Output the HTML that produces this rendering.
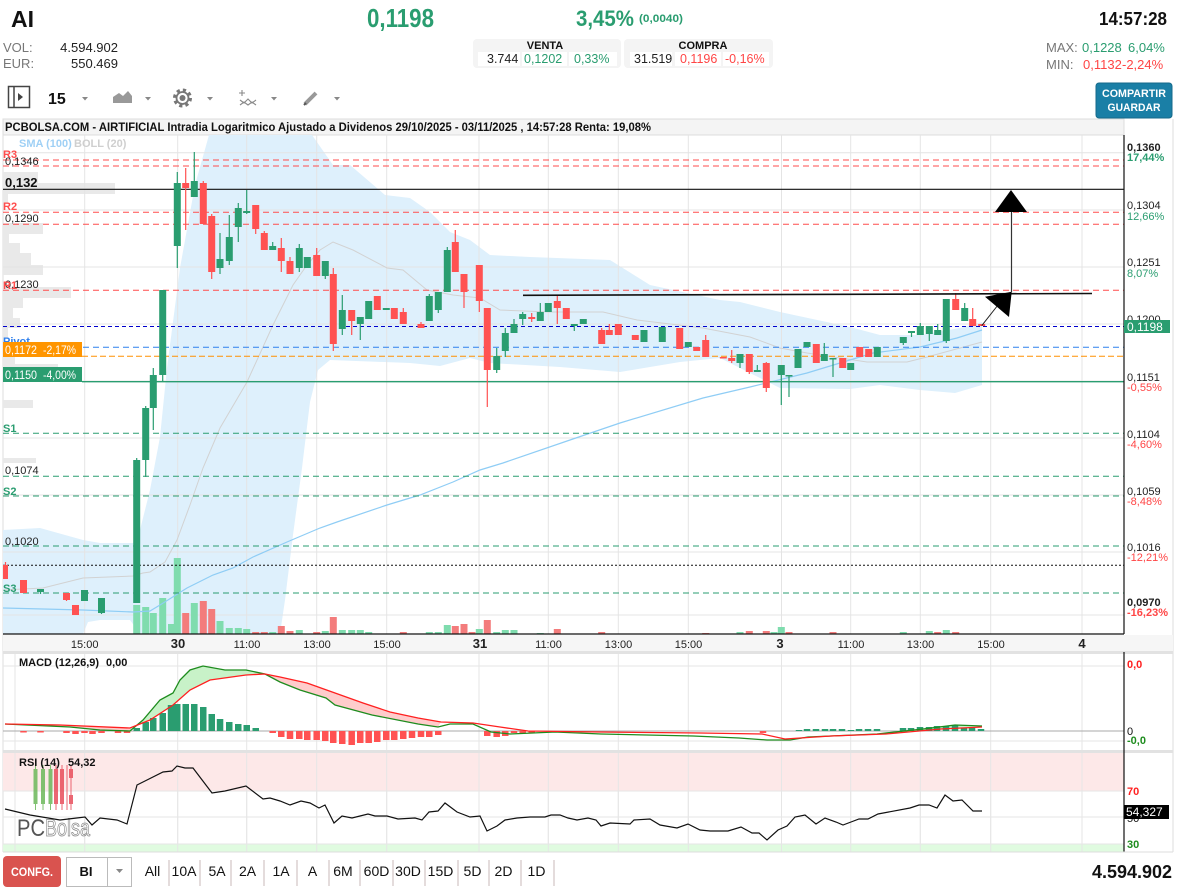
<!DOCTYPE html>
<html><head><meta charset="utf-8">
<style>
html,body{margin:0;padding:0;background:#fff;width:1187px;height:893px;overflow:hidden}
svg{display:block;font-family:"Liberation Sans",Arial,sans-serif}
</style></head><body>
<svg width="1187" height="893" viewBox="0 0 1187 893" xmlns="http://www.w3.org/2000/svg">
<defs>
<clipPath id="plot"><rect x="3" y="135" width="1121" height="499"/></clipPath>
<clipPath id="macd"><rect x="3" y="653" width="1121" height="98"/></clipPath>
</defs>
<rect width="1187" height="893" fill="#fff"/>

<!-- HEADER -->
<text x="11" y="27" font-size="23" font-weight="bold" fill="#111">AI</text>
<text x="367" y="27" font-size="26" font-weight="bold" fill="#2a9d70" textLength="67" lengthAdjust="spacingAndGlyphs">0,1198</text>
<text x="576" y="26" font-size="22" font-weight="bold" fill="#2a9d70" textLength="58" lengthAdjust="spacingAndGlyphs">3,45%</text>
<text x="639" y="22" font-size="11" font-weight="bold" fill="#2a9d70" textLength="44" lengthAdjust="spacingAndGlyphs">(0,0040)</text>
<text x="1099" y="25" font-size="18" font-weight="bold" fill="#111" textLength="68" lengthAdjust="spacingAndGlyphs">14:57:28</text>

<text x="3" y="52" font-size="13" fill="#777">VOL:</text>
<text x="118" y="52" font-size="13" fill="#222" text-anchor="end">4.594.902</text>
<text x="3" y="68" font-size="13" fill="#777">EUR:</text>
<text x="118" y="68" font-size="13" fill="#222" text-anchor="end">550.469</text>

<rect x="473" y="39" width="148" height="29" rx="4" fill="#f4f4f4"/>
<rect x="624" y="39" width="149" height="29" rx="4" fill="#f4f4f4"/>
<rect x="478" y="52" width="42" height="14" fill="#fff"/>
<rect x="522" y="52" width="45" height="14" fill="#fff"/>
<rect x="569" y="52" width="48" height="14" fill="#fff"/>
<rect x="630" y="52" width="42" height="14" fill="#fff"/>
<rect x="675" y="52" width="46" height="14" fill="#fff"/>
<rect x="723" y="52" width="46" height="14" fill="#fff"/>
<text x="545" y="49" font-size="11" font-weight="bold" fill="#111" text-anchor="middle">VENTA</text>
<text x="703" y="49" font-size="11" font-weight="bold" fill="#111" text-anchor="middle">COMPRA</text>
<text x="487" y="63" font-size="12.5" fill="#222">3.744</text>
<text x="524" y="63" font-size="12.5" fill="#2a9d70">0,1202</text>
<text x="574" y="63" font-size="12.5" fill="#2a9d70">0,33%</text>
<text x="634" y="63" font-size="12.5" fill="#222">31.519</text>
<text x="680" y="63" font-size="12.5" fill="#ff4545">0,1196</text>
<text x="725" y="63" font-size="12.5" fill="#ff4545">-0,16%</text>

<text x="1046" y="52" font-size="13" fill="#777">MAX:</text>
<text x="1082" y="52" font-size="13" fill="#2a9d70">0,1228</text>
<text x="1128" y="52" font-size="13" fill="#2a9d70">6,04%</text>
<text x="1046" y="69" font-size="13" fill="#777">MIN:</text>
<text x="1083" y="69" font-size="13" fill="#ff4545">0,1132</text>
<text x="1122" y="69" font-size="13" fill="#ff4545">-2,24%</text>

<rect x="1096" y="83" width="76" height="35" rx="3" fill="#1a7fa6" stroke="#156a8b"/>
<text x="1134" y="97" font-size="11" font-weight="bold" fill="#fff" text-anchor="middle" textLength="64" lengthAdjust="spacingAndGlyphs">COMPARTIR</text>
<text x="1134" y="111" font-size="11" font-weight="bold" fill="#fff" text-anchor="middle" textLength="53" lengthAdjust="spacingAndGlyphs">GUARDAR</text>

<!-- toolbar -->
<rect x="8.5" y="86.5" width="21" height="21" fill="none" stroke="#444" stroke-width="1.5"/>
<line x1="14" y1="87" x2="14" y2="107" stroke="#444" stroke-width="1.5"/>
<path d="M18 93L23 97L18 101z" fill="#444"/>
<text x="48" y="104" font-size="16" font-weight="bold" fill="#111">15</text>
<path d="M82 97h6l-3 3.5z M145 97h6l-3 3.5z M207 97h6l-3 3.5z M271 97h6l-3 3.5z M334 97h6l-3 3.5z" fill="#888"/>
<path d="M113 103V97L119 93L123 96L128 91L132 96V103z" fill="#999"/>
<circle cx="182.5" cy="98" r="8" fill="none" stroke="#777" stroke-width="3" stroke-dasharray="3.2 3.1"/>
<circle cx="182.5" cy="98" r="6" fill="none" stroke="#777" stroke-width="1.8"/>
<circle cx="182.5" cy="98" r="3" fill="#777"/>
<path d="M242 90v6M239 93h6M240 100l4 3 4-4 4 4 4-3M240 105l4-3 4 3 4-3 4 3" stroke="#888" stroke-width="1.1" fill="none"/>
<path d="M305 104l11-11" stroke="#999" stroke-width="4"/>
<path d="M304 105l2-2" stroke="#555" stroke-width="2"/>

<!-- CHART FRAME -->
<rect x="3" y="119" width="1121" height="16" fill="#f4f4f4" stroke="#ddd"/>
<text x="5" y="131" font-size="11.5" font-weight="bold" fill="#111" textLength="646" lengthAdjust="spacingAndGlyphs">PCBOLSA.COM - AIRTIFICIAL Intradia Logaritmico Ajustado a Dividenos 29/10/2025 - 03/11/2025 , 14:57:28 Renta: 19,08%</text>
<line x1="3" y1="119" x2="3" y2="852" stroke="#ddd"/>
<line x1="1173" y1="119" x2="1173" y2="852" stroke="#ddd"/>

<!-- volume profile -->
<g fill="#e9e9e9">
<rect x="3" y="172" width="35" height="11"/><rect x="3" y="183" width="112" height="11"/><rect x="3" y="194" width="5" height="10"/>
<rect x="3" y="223" width="40" height="11"/><rect x="3" y="234" width="6" height="9"/><rect x="3" y="243" width="17" height="10"/>
<rect x="3" y="253" width="28" height="12"/><rect x="3" y="265" width="40" height="10"/><rect x="3" y="287" width="68" height="11"/>
<rect x="3" y="298" width="20" height="10"/><rect x="3" y="308" width="10" height="10"/><rect x="3" y="318" width="17" height="10"/>
<rect x="3" y="328" width="5" height="10"/><rect x="3" y="357" width="12" height="8"/><rect x="3" y="364" width="55" height="4"/>
<rect x="3" y="400" width="30" height="8"/><rect x="3" y="458" width="33" height="5"/><rect x="3" y="550" width="7" height="8"/><rect x="3" y="588" width="5" height="10"/>
</g>

<g clip-path="url(#plot)">
<polygon fill="#def0fc" points="3,530 40,528 83,540 100,543 133,543 140,530 150,490 160,437 167,368 180,268 195,185 209,135 312,135 333,165 350,165 385,195 410,198 430,212 450,232 470,240 490,255 530,257 610,260 650,285 720,300 740,302 780,312 850,327 880,335 920,335 960,328 982,322 982,385 955,393 920,390 880,385 850,389 780,388 750,373 720,358 680,362 620,372 560,367 490,363 470,358 440,366 410,363 330,360 318,370 310,402 302,468 293,535 285,600 280,634 140,634 130,620 100,620 88,622 83,634 3,634"/>
</g>

<g stroke="#e4e4e4" stroke-width="1">
<path d="M3 152.7H1124M3 210H1124M3 267H1124M3 324H1124M3 381H1124M3 438H1124M3 495H1124M3 552H1124M3 615H1124"/>
<path d="M84.7 135V634M177.7 135V634M246.7 135V634M316.7 135V634M386.7 135V634M479 135V634M548.3 135V634M618.3 135V634M688.3 135V634M781.5 135V634M850.7 135V634M920.3 135V634M990.7 135V634M1082 135V634"/>
</g>

<g clip-path="url(#plot)">
<path fill="#7fdcae" d="M133.2 605h7V634h-7z M142.2 607h7V634h-7z M149.8 613h7V634h-7z M159.2 598h7V634h-7z M168 624h6V634h-6z M173.8 558h7V634h-7z M190.8 603h7V634h-7z M216.5 621h7V634h-7z M225.8 628h7V634h-7z M234.8 628h7V634h-7z M243.2 629h7V634h-7z M269.2 632h7V634h-7z M295.8 630h7V634h-7z M321.8 631h7V634h-7z M338.8 630h7V634h-7z M348.2 630h7V634h-7z M356.8 630h7V634h-7z M365.2 632h7V634h-7z M425.8 632h7V634h-7z M434.8 632h7V634h-7z M443.8 625h7V634h-7z M475.8 629h7V634h-7z M493.2 632h7V634h-7z M501.8 630h7V634h-7z M510.5 630h7V634h-7z M536.8 633h7V634h-7z M736.5 632h7V634h-7z M770.5 632h7V634h-7z M777.8 627h7V634h-7z M899.8 632h7V634h-7z M925.8 631h7V634h-7z M942.8 630h7V634h-7z"/>
<path fill="#f37c7c" d="M182.2 613h7V634h-7z M199.8 601h7V634h-7z M208.2 609h7V634h-7z M252.2 632h7V634h-7z M260.8 632h7V634h-7z M277.8 626h7V634h-7z M286.5 631h7V634h-7z M313.2 632h7V634h-7z M329.8 617h7V634h-7z M399.8 632h7V634h-7z M451.8 626h7V634h-7z M460.5 624h7V634h-7z M468.5 632h7V634h-7z M483.8 620h7V634h-7z M553.8 629h7V634h-7z M598.2 632h7V634h-7z M702.2 633h7V634h-7z M745.8 631h7V634h-7z M762.8 631h7V634h-7z M785.5 632h7V634h-7z M829.5 632h7V634h-7z M934.2 632h7V634h-7z M952.2 632h7V634h-7z"/>
<polyline fill="none" stroke="#d2d2d2" stroke-width="1" points="3,590 43,588 83,578 133,576 143,573 150,572 165,562 177,540 190,505 203,468 220,428 247,382 273,325 293,285 307,265 320,250 333,242 353,250 387,268 403,270 427,290 453,295 480,298 500,310 550,312 603,312 637,320 703,328 750,337 780,348 807,353 867,362 907,362 927,357 960,348 982,342"/>
<polyline fill="none" stroke="#8fcdf5" stroke-width="1.2" points="3,608 83,610 133,612 150,611 160,605 187,588 213,575 233,568 253,557 287,542 320,528 337,522 387,505 420,495 453,482 480,470 503,463 570,440 620,423 703,398 750,387 807,373 873,353 920,347 957,338 982,330"/>
</g>

<g fill="none" stroke-width="1">
<path d="M3 160H1124M3 166H1124M3 212.3H1124M3 224.3H1124M3 290.3H1124" stroke="#ff4d4d" stroke-dasharray="6 4"/>
<path d="M3 433.3H1124M3 476.3H1124M3 496H1124M3 546H1124M3 593H1124" stroke="#2a9d70" stroke-dasharray="6 4"/>
<path d="M3 326.5H1124" stroke="#0000cc" stroke-dasharray="4 3"/>
<path d="M3 347.3H1124" stroke="#2f80ed" stroke-dasharray="6 4"/>
<path d="M82 356.3H1124" stroke="#ff9000" stroke-dasharray="6 3"/>
<path d="M82 381.7H1124" stroke="#2a9d70" stroke-width="1.3"/>
<path d="M3 565.3H1124" stroke="#111" stroke-dasharray="2 2"/>
<path d="M3 189.3H1124" stroke="#111" stroke-width="1.2"/>
</g>

<g stroke-width="1.2" fill="none">
<path stroke="#2a9d70" d="M40.5 589V594M101.5 598V614M136.7 458V603M145.7 406V477M153.3 368V430M162.7 290V382M177.3 172V268M194.3 152V197M220 233V274M229.3 215V265M238.3 203V242M246.7 190V214M272.7 242V250M299.3 244V272M325.3 261V279M342.3 295V335M360.3 317V340M429.3 294V321M438.3 292V313M447.3 247V292M496.7 348V373M505.3 328V357M514 319V333M522.7 312V325M540.3 303V321M574.3 324V331M740 354V368M757.3 365V372M781.3 365V405M789 375V397M824.3 343V361M833 358V377M903.3 337V345M911.5 331V337M920.3 323V335M929.3 326V341M937.7 324V335M946.3 299V343M964.7 303V321"/>
<path stroke="#ff5252" d="M5.5 562V579M66.5 593V601M185.7 168V230M203.3 181V224M211.7 214V279M255.7 205V234M264.3 231V250M281.3 238V272M290 257V274M316.7 248V276M333.3 268V351M351.7 310V335M403.3 308V324M421 322V328M455.3 230V272M464 274V308M479.3 265V312M487.3 308V407M531.7 313V322M557.3 295V324M601.7 328V344M609.3 324V335M705.7 335V357M731.7 350V363M749.3 354V374M766.3 362V392M955.7 293V310M972.7 308V326"/>
</g>
<path fill="#2a9d70" d="M37 589h7v3h-7zM81 590h7v11h-7zM98 598h7v15h-7zM133.2 460h7v143h-7zM142.2 408h7v52h-7zM149.8 375h7v33h-7zM159.2 290h7v85h-7zM173.8 183h7v63h-7zM190.8 181h7v16h-7zM216.5 259h7v9h-7zM225.8 237h7v24h-7zM234.8 208h7v19h-7zM243.2 211h7v2h-7zM269.2 246h7v4h-7zM295.8 248h7v20h-7zM303.8 257h7v11h-7zM321.8 261h7v15h-7zM338.8 310h7v19h-7zM356.8 317h7v7h-7zM365.2 301h7v18h-7zM382.8 308h7v2h-7zM425.8 296h7v25h-7zM434.8 292h7v18h-7zM443.8 250h7v42h-7zM493.2 356h7v14h-7zM501.8 333h7v18h-7zM510.5 324h7v9h-7zM519.2 314h7v5h-7zM536.8 312h7v9h-7zM544.8 303h7v9h-7zM570.8 324h7v2h-7zM579.8 319h7v5h-7zM640.5 330h7v12h-7zM658.8 327h7v15h-7zM684.8 342h7v5h-7zM736.5 354h7v9h-7zM753.8 370h7v2h-7zM777.8 365h7v10h-7zM785.5 375h7v1.5h-7zM794.5 349h7v19h-7zM803.5 342h7v5h-7zM820.8 354h7v7h-7zM829.5 358h7v1.5h-7zM847.2 363h7v7h-7zM873.8 347h7v10h-7zM899.8 337h7v6h-7zM908 331h7v2h-7zM916.8 326h7v9h-7zM925.8 326h7v8h-7zM934.2 330h7v5h-7zM942.8 299h7v42h-7zM961.2 308h7v13h-7z"/>
<path fill="#ff5252" d="M3 565h5v14h-5zM20 580h7v13h-7zM63 593h7v7h-7zM72 605h7v10h-7zM182.2 183h7v5h-7zM199.8 183h7v41h-7zM208.2 216h7v56h-7zM252.2 205h7v24h-7zM260.8 233h7v17h-7zM277.8 248h7v13h-7zM286.5 261h7v13h-7zM313.2 255h7v21h-7zM329.8 274h7v70h-7zM348.2 310h7v11h-7zM373.8 296h7v14h-7zM390.8 308h7v11h-7zM399.8 312h7v12h-7zM417.5 324h7v4h-7zM451.8 242h7v30h-7zM460.5 274h7v18h-7zM475.8 265h7v36h-7zM483.8 308h7v62h-7zM528.2 317h7v2h-7zM553.8 301h7v7h-7zM562.8 308h7v11h-7zM598.2 330h7v14h-7zM605.8 330h7v5h-7zM614.8 324h7v11h-7zM631.8 335h7v5h-7zM676.2 328h7v21h-7zM693.2 347h7v4h-7zM702.2 340h7v17h-7zM719.8 357h7v1.5h-7zM728.2 358h7v3h-7zM745.8 354h7v18h-7zM762.8 363h7v25h-7zM812.8 344h7v19h-7zM839.2 358h7v10h-7zM856.2 347h7v10h-7zM865.2 349h7v8h-7zM952.2 299h7v11h-7zM969.2 319h7v7h-7zM978.2 324h7v2h-7z"/>

<line x1="523" y1="295.3" x2="1092" y2="293.5" stroke="#111" stroke-width="1.6"/>
<line x1="981.7" y1="325.7" x2="998" y2="305" stroke="#222" stroke-width="1"/>
<polygon points="1011.7,291.7 985,296.7 1009,317" fill="#000"/>
<line x1="1011.5" y1="292" x2="1011.5" y2="210" stroke="#333" stroke-width="1.2"/>
<polygon points="1011,190 995,212 1027,212" fill="#000"/>

<text x="19" y="147" font-size="11" font-weight="bold" fill="#9fd0f5">SMA (100)</text>
<text x="74" y="147" font-size="11" font-weight="bold" fill="#cfcfcf">BOLL (20)</text>

<g font-size="11" fill="#222">
<text x="3" y="158" font-weight="bold" fill="#ff4d4d">R3</text>
<text x="5" y="165">0,1346</text>
<text x="5" y="187" font-size="13" font-weight="bold" fill="#111">0,132</text>
<text x="3" y="210" font-weight="bold" fill="#ff4d4d">R2</text>
<text x="5" y="222">0,1290</text>
<text x="5" y="288">0,1230</text>
<text x="3" y="289" font-weight="bold" fill="#ff4d4d">R1</text>
<text x="3" y="345" font-weight="bold" fill="#2f80ed">Pivot</text>
<rect x="3" y="342" width="79" height="15" fill="#ff9500"/>
<text x="5" y="354" font-size="11.5" fill="#fff" textLength="32" lengthAdjust="spacingAndGlyphs">0,1172</text>
<text x="43" y="354" font-size="11.5" fill="#fff" textLength="33" lengthAdjust="spacingAndGlyphs">-2,17%</text>
<rect x="3" y="367" width="79" height="15" fill="#2a9d70"/>
<text x="5" y="379" font-size="11.5" fill="#fff" textLength="32" lengthAdjust="spacingAndGlyphs">0,1150</text>
<text x="43" y="379" font-size="11.5" fill="#fff" textLength="33" lengthAdjust="spacingAndGlyphs">-4,00%</text>
<text x="3" y="432" font-weight="bold" fill="#2a9d70">S1</text>
<text x="5" y="474">0,1074</text>
<text x="3" y="495" font-weight="bold" fill="#2a9d70">S2</text>
<text x="5" y="545">0,1020</text>
<text x="3" y="592" font-weight="bold" fill="#2a9d70">S3</text>
</g>

<line x1="1124" y1="135" x2="1124" y2="634" stroke="#111" stroke-width="1.2"/>
<g font-size="11" fill="#222">
<text x="1127" y="151" font-weight="bold">0,1360</text><text x="1127" y="161" font-weight="bold" fill="#2a9d70">17,44%</text>
<text x="1127" y="209">0,1304</text><text x="1127" y="220" fill="#2a9d70">12,66%</text>
<text x="1127" y="266">0,1251</text><text x="1127" y="277" fill="#2a9d70">8,07%</text>
<text x="1127" y="323">0,1200</text>
<text x="1127" y="381">0,1151</text><text x="1127" y="391" fill="#ff4545">-0,55%</text>
<text x="1127" y="438">0,1104</text><text x="1127" y="448" fill="#ff4545">-4,60%</text>
<text x="1127" y="495">0,1059</text><text x="1127" y="505" fill="#ff4545">-8,48%</text>
<text x="1127" y="551">0,1016</text><text x="1127" y="561" fill="#ff4545">-12,21%</text>
<text x="1127" y="606" font-weight="bold">0,0970</text><text x="1127" y="616" font-weight="bold" fill="#ff4545">-16,23%</text>
</g>
<rect x="1124" y="320" width="46" height="13" fill="#2a9d70"/>
<text x="1127" y="331" font-size="12" fill="#fff">0,1198</text>

<rect x="3" y="635" width="1170" height="16" fill="#f6f6f6"/>
<line x1="3" y1="634" x2="1124" y2="634" stroke="#111" stroke-width="1.2"/>
<g font-size="11" fill="#222" text-anchor="middle">
<text x="84.7" y="648">15:00</text><text x="178" y="648" font-size="13" font-weight="bold">30</text>
<text x="247" y="648">11:00</text><text x="317" y="648">13:00</text><text x="387" y="648">15:00</text>
<text x="480" y="648" font-size="13" font-weight="bold">31</text>
<text x="548.5" y="648">11:00</text><text x="618.5" y="648">13:00</text><text x="688.5" y="648">15:00</text>
<text x="780" y="648" font-size="13" font-weight="bold">3</text>
<text x="851" y="648">11:00</text><text x="920.5" y="648">13:00</text><text x="991" y="648">15:00</text>
<text x="1082" y="648" font-size="13" font-weight="bold">4</text>
</g>
<rect x="3" y="651" width="1170" height="3" fill="#e2e2e2"/>

<g stroke="#e6e6e6">
<path d="M3 666H1124M3 741H1124"/>
<path d="M15 654V852M84.7 654V852M177.7 654V852M246.7 654V852M316.7 654V852M386.7 654V852M479 654V852M548.3 654V852M618.3 654V852M688.3 654V852M781.5 654V852M850.7 654V852M920.3 654V852M990.7 654V852M1082 654V852"/>
</g>
<line x1="3" y1="731" x2="1124" y2="731" stroke="#aaa"/>
<g clip-path="url(#macd)">
<polygon fill="#c8f2c8" points="130,731 143,720 160,700 173,693 180,680 190,670 203,666 225,670 246,670 265,674 246,675 210,680 190,690 173,705 150,720 130,728"/>
<polygon fill="#ffcccc" points="265,674 280,677 307,683 335,693 363,703 390,712 418,718 441,722 438,727 418,724 372,715 335,705 326,698 300,690 280,682"/>
<polygon fill="#ffcccc" points="5,724 60,725 130,728 130,731 100,730 70,727"/>
<polygon fill="#c8f2c8" points="880,734 923,729 955,725 982,726 941,729 886,734"/>
<path fill="#2a9d70" d="M133.5 728h6.5V731h-6.5zM142.5 722h6.5V731h-6.5zM150 718h6.5V731h-6.5zM159.5 713h6.5V731h-6.5zM167.8 705h6.5V731h-6.5zM174 704h6.5V731h-6.5zM182.5 704h6.5V731h-6.5zM191 704h6.5V731h-6.5zM200 707h6.5V731h-6.5zM208.5 714h6.5V731h-6.5zM216.8 719h6.5V731h-6.5zM226 722h6.5V731h-6.5zM235 724h6.5V731h-6.5zM243.5 725h6.5V731h-6.5zM252.5 728h6.5V731h-6.5zM795.75 730h6.5V731h-6.5zM803.75 729h6.5V731h-6.5zM812.75 729h6.5V731h-6.5zM821.75 729h6.5V731h-6.5zM829.75 729h6.5V731h-6.5zM838.75 729h6.5V731h-6.5zM847.75 730h6.5V731h-6.5zM855.75 729h6.5V731h-6.5zM864.75 729h6.5V731h-6.5zM873.75 729h6.5V731h-6.5zM899.75 728h6.5V731h-6.5zM907.75 728h6.5V731h-6.5zM916.75 727h6.5V731h-6.5zM925.75 727h6.5V731h-6.5zM933.75 726h6.5V731h-6.5zM942.75 726h6.5V731h-6.5zM951.75 725h6.5V731h-6.5zM960.75 728h6.5V731h-6.5zM968.75 728h6.5V731h-6.5zM977.75 729h6.5V731h-6.5z"/>
<path fill="#ff5252" d="M20.25 731h6.5V732.5h-6.5zM37.25 731h6.5V732.5h-6.5zM63.25 731h6.5V733h-6.5zM72.25 731h6.5V734h-6.5zM81.25 731h6.5V733h-6.5zM89.25 731h6.5V734h-6.5zM98.25 731h6.5V733h-6.5zM114.75 731h6.5V733h-6.5zM123.75 731h6.5V733h-6.5zM269.45 731h6.5V733h-6.5zM278 731h6.5V737h-6.5zM286.75 731h6.5V739h-6.5zM296 731h6.5V739h-6.5zM304 731h6.5V740h-6.5zM313.45 731h6.5V740h-6.5zM322 731h6.5V741h-6.5zM330 731h6.5V743h-6.5zM339 731h6.5V744h-6.5zM348.45 731h6.5V745h-6.5zM357 731h6.5V743h-6.5zM365.45 731h6.5V743h-6.5zM374 731h6.5V742h-6.5zM383 731h6.5V740h-6.5zM391 731h6.5V740h-6.5zM400 731h6.5V739h-6.5zM408.75 731h6.5V738h-6.5zM417.75 731h6.5V737h-6.5zM426 731h6.5V737h-6.5zM435 731h6.5V735h-6.5zM484 731h6.5V736h-6.5zM493.45 731h6.5V737h-6.5zM502 731h6.5V736h-6.5zM510.75 731h6.5V733h-6.5zM519.45 731h6.5V733h-6.5zM528.45 731h6.5V733h-6.5zM759.75 731h6.5V733h-6.5z"/>
<polyline fill="none" stroke="#1e8c1e" stroke-width="1.3" points="5,724 70,727 100,730 130,731 143,720 160,700 173,693 180,680 190,670 203,666 225,670 246,670 265,674 280,682 300,690 326,698 335,705 372,715 418,724 438,727 450,724 473,724 491,732 510,734 555,732 601,734 693,736 739,738 767,740 790,740 808,737 877,734 923,729 955,725 982,726"/>
<polyline fill="none" stroke="#ff2020" stroke-width="1.3" points="5,724 60,725 130,728 150,720 173,705 190,690 210,680 246,675 265,674 280,677 307,683 335,693 363,703 390,712 418,718 441,722 473,723 500,727 528,731 600,732 700,733 762,734 785,739 831,736 886,734 941,729 982,727"/>
</g>
<text x="19" y="666" font-size="11" font-weight="bold" fill="#111">MACD (12,26,9)</text>
<text x="106" y="666" font-size="11" font-weight="bold" fill="#111">0,00</text>
<rect x="3" y="750" width="1170" height="3" fill="#e2e2e2"/>

<rect x="3" y="753" width="1121" height="38" fill="#fde8e8"/>
<rect x="3" y="844" width="1121" height="8" fill="#e0fbe0"/>
<g stroke="#e6e6e6"><path d="M3 791H1124M3 817H1124M3 844H1124"/>
<path d="M15 753V852M84.7 753V852M177.7 753V852M246.7 753V852M316.7 753V852M386.7 753V852M479 753V852M548.3 753V852M618.3 753V852M688.3 753V852M781.5 753V852M850.7 753V852M920.3 753V852M990.7 753V852M1082 753V852"/></g>
<g opacity="0.85">
<path stroke="#6cb85a" stroke-width="1" d="M35.5 765V810M43 765V810M50.5 765V810"/>
<path fill="#6cb85a" d="M33.5 769h4v35h-4zM41 769h4v35h-4zM48.5 769h4v35h-4z"/>
<path stroke="#e84d5b" stroke-width="1" d="M56 765V810M62 765V810M67 765V810M71 765V810"/>
<path fill="#e84d5b" d="M54 769h4v35h-4zM60 769h4v35h-4zM69 769h4v9h-4zM69 795h4v9h-4z"/>
</g>
<text x="17" y="836" font-size="24" fill="#555" textLength="28" lengthAdjust="spacingAndGlyphs">PC</text>
<text x="45" y="836" font-size="24" fill="none" stroke="#888" stroke-width="0.8" textLength="45" lengthAdjust="spacingAndGlyphs">Bolsa</text>
<polyline fill="none" stroke="#111" stroke-width="1.2" points="5,809 30,815 60,820 85,817 92,825 100,818 117,820 127,824 137,785 145,781 163,772 172,771 177,766 185,768 193,768 212,793 225,791 246,786 263,799 270,798 280,801 290,805 301,801 310,803 319,808 325,805 334,823 342,816 352,818 360,816 368,814 375,816 387,816 398,819 415,818 422,820 429,812 438,811 445,803 457,812 470,817 480,816 487,831 497,826 505,820 517,818 530,817 545,817 551,815 560,815 568,818 577,820 588,818 596,820 601,826 610,823 630,824 634,820 650,819 660,825 677,828 688,824 700,830 710,831 728,831 741,827 752,833 759,833 767,840 778,830 787,826 795,817 805,815 816,824 825,818 836,822 843,825 851,822 859,819 868,819 878,814 910,808 919,805 929,805 937,808 945,795 953,801 962,800 973,811 982,811"/>
<text x="19" y="766" font-size="11" font-weight="bold" fill="#111">RSI (14)</text>
<text x="68" y="766" font-size="11" font-weight="bold" fill="#111">54,32</text>

<line x1="1124" y1="652" x2="1124" y2="852" stroke="#111" stroke-width="1.2"/>
<text x="1127" y="668" font-size="11" font-weight="bold" fill="#ff2020">0,0</text>
<text x="1127" y="735" font-size="11" fill="#111">0</text>
<text x="1127" y="744" font-size="11" font-weight="bold" fill="#1e8c1e">-0,0</text>
<text x="1127" y="795" font-size="11" font-weight="bold" fill="#ff2020">70</text>
<text x="1127" y="822" font-size="11" fill="#111">50</text>
<rect x="1124" y="805" width="45" height="14" fill="#000"/>
<text x="1126" y="816" font-size="12" fill="#fff">54,327</text>
<text x="1127" y="848" font-size="11" font-weight="bold" fill="#1e8c1e">30</text>
<line x1="3" y1="852" x2="1173" y2="852" stroke="#ddd"/>

<rect x="3" y="856" width="58" height="31" rx="4" fill="#d9534f"/>
<text x="32" y="876" font-size="12" font-weight="bold" fill="#fff" text-anchor="middle" textLength="42" lengthAdjust="spacingAndGlyphs">CONFG.</text>
<rect x="66.5" y="857.5" width="41" height="29" fill="#fff" stroke="#bbb"/>
<rect x="107.5" y="857.5" width="24" height="29" fill="#fff" stroke="#bbb"/>
<text x="86" y="876" font-size="13" font-weight="bold" fill="#111" text-anchor="middle">BI</text>
<path d="M116 869h7l-3.5 4z" fill="#888"/>
<g stroke="#c8b8b8"><path d="M169 860V886M200 860V886M231 860V886M264 860V886M297 860V886M329 860V886M360 860V886M393 860V886M425 860V886M458 860V886M489 860V886M521 860V886M554 860V886"/></g>
<g font-size="14" fill="#111" text-anchor="middle">
<text x="152.5" y="876">All</text><text x="184" y="876">10A</text><text x="217" y="876">5A</text><text x="247.5" y="876">2A</text>
<text x="281" y="876">1A</text><text x="312.5" y="876">A</text><text x="343" y="876">6M</text><text x="376.5" y="876">60D</text>
<text x="408" y="876">30D</text><text x="440.5" y="876">15D</text><text x="472.5" y="876">5D</text><text x="503.5" y="876">2D</text><text x="536.5" y="876">1D</text>
</g>
<text x="1172" y="878" font-size="18" font-weight="bold" fill="#111" text-anchor="end" textLength="80" lengthAdjust="spacingAndGlyphs">4.594.902</text>
</svg>
</body></html>
